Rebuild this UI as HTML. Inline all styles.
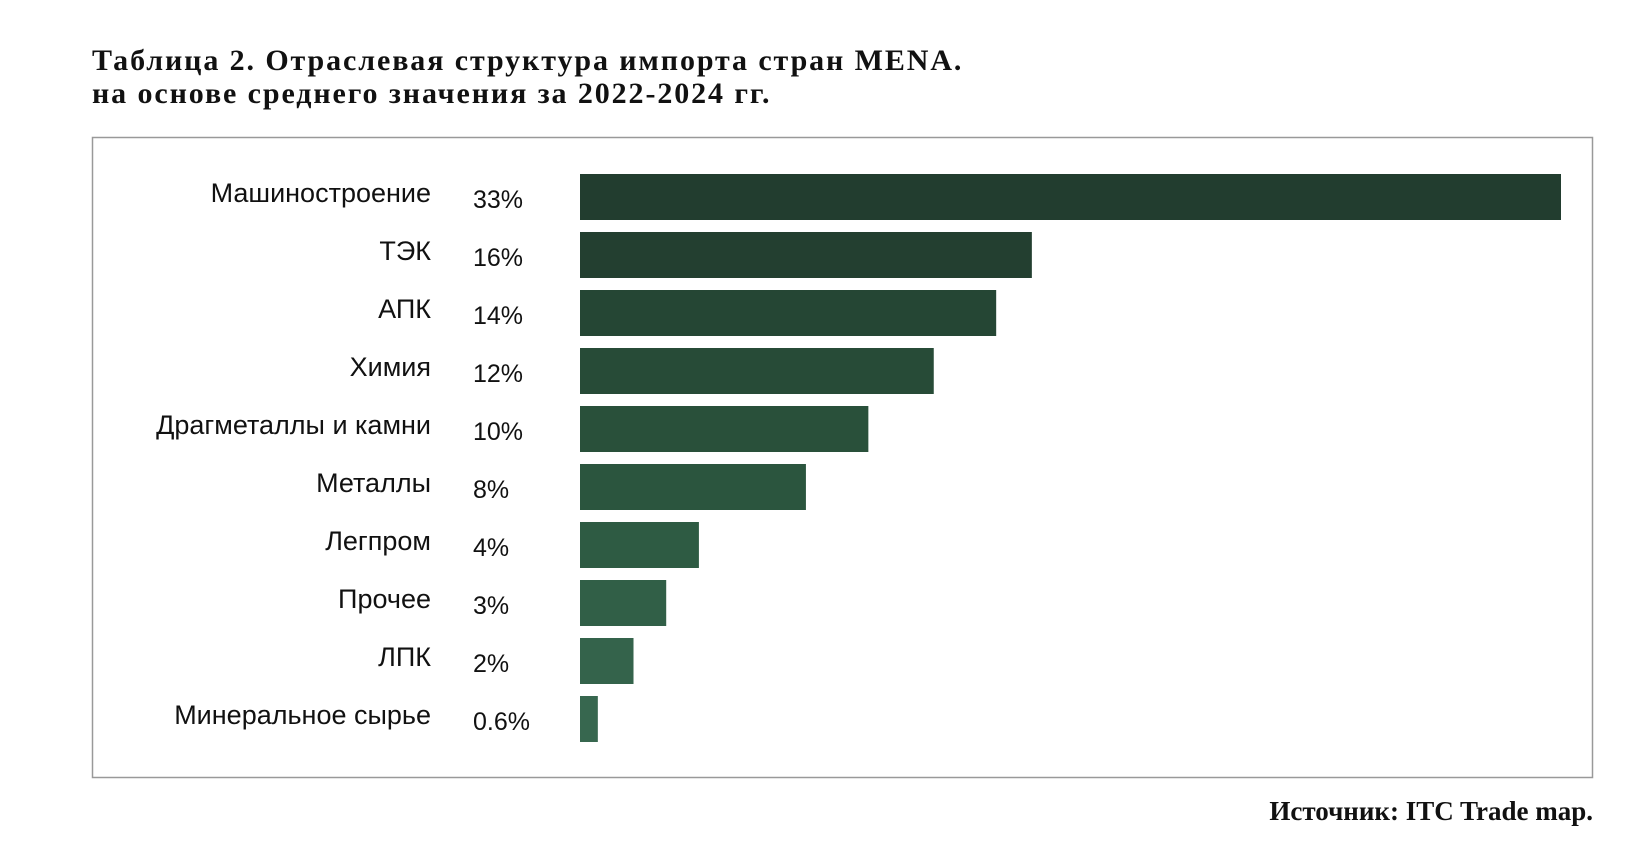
<!DOCTYPE html>
<html><head><meta charset="utf-8"><style>
body{margin:0;width:1634px;height:844px;background:#fff;position:relative;overflow:hidden}
.title{position:absolute;left:92px;top:44px;font:bold 30px/33px "Liberation Serif","Noto Serif CJK SC",serif;letter-spacing:1.9px;color:#111}
.src{position:absolute;right:41px;top:796px;font:bold 27px "Liberation Serif",serif;color:#111}
svg{position:absolute;left:0;top:0}
</style></head><body>
<div class="title">Таблица 2. Отраслевая структура импорта стран MENA.<br>на основе среднего значения за 2022-2024 гг.</div>
<svg width="1634" height="844" id="chart">
<rect x="92.5" y="137.5" width="1500" height="640" fill="none" stroke="#999" stroke-width="1.5"/>
</svg>
<div class="src">Источник: ITC Trade map.</div>
<script>
const categories=["Машиностроение","ТЭК","АПК","Химия","Драгметаллы и камни","Металлы","Легпром","Прочее","ЛПК","Минеральное сырье"];
const values=[33,15.2,14.0,11.9,9.7,7.6,4.0,2.9,1.8,0.6];
const valueLabels=["33%","16%","14%","12%","10%","8%","4%","3%","2%","0.6%"];
const colors=["#223d2f","#233f30","#254634","#274b37","#29503a","#2b553e","#2e5b43","#315f47","#34634b","#37674f"];
const svg=document.getElementById('chart');
const NS='http://www.w3.org/2000/svg';
const x0=580,xMax=1561,vMax=33;
const xs=v=>(v/vMax)*(xMax-x0);
const ys=i=>174+i*58;
categories.forEach((c,i)=>{
  const r=document.createElementNS(NS,'rect');
  r.setAttribute('x',x0);r.setAttribute('y',ys(i));
  r.setAttribute('width',xs(values[i]));r.setAttribute('height',46);
  r.setAttribute('fill',colors[i]);
  
  
  svg.appendChild(r);
  const t=document.createElementNS(NS,'text');
  t.setAttribute('x',431);t.setAttribute('y',ys(i)+28);
  t.setAttribute('text-anchor','end');
  t.setAttribute('font-family','Liberation Sans, sans-serif');t.setAttribute('font-size','27');t.setAttribute('fill','#111');
  t.textContent=c;
  
  
  svg.appendChild(t);
  const v=document.createElementNS(NS,'text');
  v.setAttribute('x',473);v.setAttribute('y',ys(i)+34);
  v.setAttribute('font-family','Liberation Sans, sans-serif');v.setAttribute('font-size','25');v.setAttribute('fill','#111');
  v.textContent=valueLabels[i];
  
  
  svg.appendChild(v);
});
</script>
</body></html>
